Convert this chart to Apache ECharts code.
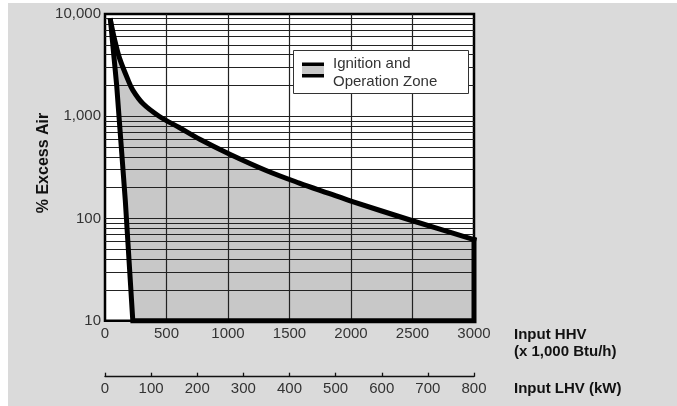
<!DOCTYPE html>
<html>
<head>
<meta charset="utf-8">
<script src="https://cdn.jsdelivr.net/npm/echarts@6/dist/echarts.min.js"></script>
<style>html,body{margin:0;padding:0;background:#fff;}#c{width:677px;height:406px;}</style>
</head>
<body>
<div id="c"></div>
<script>
// Upper boundary of the zone (Input HHV x1000 Btu/h, % excess air)
const upperHHV = [45, 80, 118, 185, 226, 308, 440, 600, 770, 1010, 1310, 1580, 1820, 2000, 2500, 3000];
const upperAir = [8600, 5500, 3700, 2300, 1800, 1330, 1000, 780, 595, 428, 295, 222, 176, 148, 95, 62];
// Right edge at max input
const rightHHV = [3000];
const rightAir = [10];
// Left boundary (bottom to top)
const leftHHV = [226, 165, 95, 45];
const leftAir = [10, 150, 2000, 8600];
// Axis ticks
const hhvTicks = [0, 500, 1000, 1500, 2000, 2500, 3000];
const lhvTicks = [0, 100, 200, 300, 400, 500, 600, 700, 800];
const airTicks = [10, 100, 1000, 10000];
// Grid line values
const hGrid = [20,30,40,50,60,70,80,90,100,200,300,400,500,600,700,800,900,1000,2000,3000,4000,5000,6000,7000,8000,9000];
const vGrid = [500, 1000, 1500, 2000, 2500];

const upperPts = upperHHV.map((x, i) => [x, upperAir[i]]);
const restPts = [[upperHHV[upperHHV.length - 1], upperAir[upperAir.length - 1]]]
  .concat(rightHHV.map((x, i) => [x, rightAir[i]]))
  .concat(leftHHV.map((x, i) => [x, leftAir[i]]));
const verts = upperPts.concat(rightHHV.map((x, i) => [x, rightAir[i]])).concat(leftHHV.map((x, i) => [x, leftAir[i]]));

function fillItem(params, api) {
  if (params.dataIndex !== 0) return;
  return { type: 'polygon', shape: { points: verts.map(v => api.coord(v)) }, style: { fill: '#c8c8c8' } };
}
function outlineItem(params, api) {
  if (params.dataIndex !== 0) return;
  const st = { fill: null, stroke: '#000', lineWidth: 5, lineJoin: 'miter', miterLimit: 10, lineCap: 'square' };
  return {
    type: 'group',
    children: [
      { type: 'polyline', shape: { points: upperPts.map(v => api.coord(v)), smooth: 0.35 }, style: st },
      { type: 'polyline', shape: { points: restPts.map(v => api.coord(v)) }, style: st }
    ]
  };
}

const fmt = v => String(v).replace(/\B(?=(\d{3})+(?!\d))/g, ',');
const FONT = 'Liberation Sans';
const chart = echarts.init(document.getElementById('c'), null, { renderer: 'canvas' });
chart.setOption({
  animation: false,
  backgroundColor: '#ffffff',
  graphic: [
    { type: 'rect', z: -10, shape: { x: 8, y: 3, width: 669, height: 403 }, style: { fill: '#dadada' } },
    { type: 'rect', z: 20, shape: { x: 293.5, y: 50.5, width: 175, height: 43 }, style: { fill: '#fff', stroke: '#333', lineWidth: 1 } },
    { type: 'rect', z: 21, shape: { x: 302, y: 62.5, width: 22, height: 3.5 }, style: { fill: '#000' } },
    { type: 'rect', z: 21, shape: { x: 302, y: 66, width: 22, height: 8 }, style: { fill: '#c8c8c8' } },
    { type: 'rect', z: 21, shape: { x: 302, y: 74, width: 22, height: 3.5 }, style: { fill: '#000' } },
    { type: 'text', z: 21, x: 333, y: 63.5, style: { text: 'Ignition and', font: '15px "' + FONT + '"', fill: '#333', textAlign: 'left', textVerticalAlign: 'middle' } },
    { type: 'text', z: 21, x: 333, y: 82, style: { text: 'Operation Zone', font: '15px "' + FONT + '"', fill: '#333', textAlign: 'left', textVerticalAlign: 'middle' } },
    { type: 'text', z: 21, x: 514, y: 334.5, style: { text: 'Input HHV', font: 'bold 15px "' + FONT + '"', fill: '#111', textAlign: 'left', textVerticalAlign: 'middle' } },
    { type: 'text', z: 21, x: 514, y: 352, style: { text: '(x 1,000 Btu/h)', font: 'bold 15px "' + FONT + '"', fill: '#111', textAlign: 'left', textVerticalAlign: 'middle' } },
    { type: 'text', z: 21, x: 514, y: 389, style: { text: 'Input LHV (kW)', font: 'bold 15px "' + FONT + '"', fill: '#111', textAlign: 'left', textVerticalAlign: 'middle' } },
    { type: 'text', z: 21, x: 44, y: 163, rotation: Math.PI / 2, style: { text: '% Excess Air', font: 'bold 16px "' + FONT + '"', fill: '#111', textAlign: 'center', textVerticalAlign: 'middle' } }
  ],
  grid: {
    left: 105, right: 203, top: 14, bottom: 85.3,
    show: true, backgroundColor: '#fff', borderColor: '#000', borderWidth: 2.5
  },
  xAxis: [
    {
      type: 'value', min: 0, max: 3000, interval: 500, position: 'bottom',
      axisLine: { show: false }, axisTick: { show: false }, splitLine: { show: false },
      axisLabel: { margin: 6, fontSize: 15, fontFamily: FONT, color: '#333',
        formatter: v => hhvTicks.indexOf(v) >= 0 ? String(v) : '' }
    },
    {
      type: 'value', min: 0, max: 800, interval: 100, position: 'bottom', offset: 56,
      axisLine: { show: true, onZero: false, lineStyle: { color: '#111', width: 1.3 } },
      axisTick: { show: true, inside: true, length: 4, lineStyle: { color: '#111', width: 1.3 } },
      splitLine: { show: false },
      axisLabel: { margin: 5, fontSize: 15, fontFamily: FONT, color: '#333',
        formatter: v => lhvTicks.indexOf(v) >= 0 ? String(v) : '' }
    }
  ],
  yAxis: {
    type: 'log', logBase: 10, min: 10, max: 10000,
    axisLine: { show: false }, axisTick: { show: false }, splitLine: { show: false },
    axisLabel: { margin: 4, fontSize: 15, fontFamily: FONT, color: '#333',
      formatter: v => airTicks.indexOf(Math.round(v)) >= 0 ? fmt(Math.round(v)) : '' }
  },
  series: [
    {
      type: 'custom', name: 'fill', z: 1, silent: true, clip: false,
      data: [[upperHHV[0], upperAir[0]]],
      renderItem: fillItem
    },
    {
      type: 'line', name: 'grid', z: 3, silent: true, data: [], symbol: 'none',
      markLine: {
        z: 4, silent: true, symbol: 'none', animation: false,
        label: { show: false },
        lineStyle: { color: '#222', width: 1.2, type: 'solid' },
        data: hGrid.map(v => ({ yAxis: v })).concat(vGrid.map(v => ({ xAxis: v })))
      }
    },
    {
      type: 'custom', name: 'outline', z: 10, silent: true, clip: false,
      data: [[upperHHV[0], upperAir[0]]],
      renderItem: outlineItem
    }
  ]
});
</script>
</body>
</html>
